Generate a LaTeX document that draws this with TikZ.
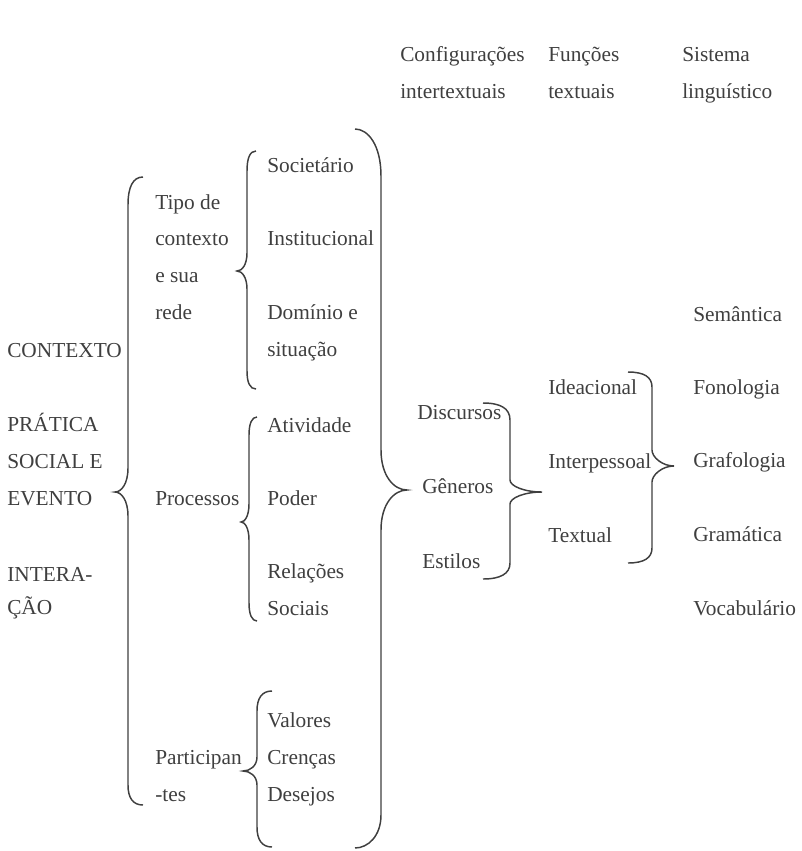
\documentclass[tikz,border=0pt]{standalone}
\usepackage{fontspec}
\setmainfont{Liberation Serif}
\usepackage{tikz}
\usetikzlibrary{positioning}
\definecolor{ink}{HTML}{3F3F3F}

\begin{document}
\begin{tikzpicture}[x=0.75pt,y=0.75pt,yscale=-1,xscale=1,
    lbl/.style={anchor=base west, inner sep=0pt, align=left, text=ink,
        font=\fontsize{16}{27.5}\selectfont},
    brc/.style={draw=ink, line width=1.1pt}]
    \useasboundingbox (0,0) rectangle (801,851);

    %Shape: Brace (left, main)
    \draw [brc] (143,177) .. controls (133,177) and (128,186.8) .. (128,205) -- (128,468) .. controls (128,483.6) and (121.5,492) .. (115,492) .. controls (121.5,492) and (128,500.4) .. (128,516) -- (128,785) .. controls (128,798) and (133,805) .. (143,805) ;
    %Shape: Brace (tipo de contexto)
    \draw [brc] (256,151) .. controls (250,151) and (247,158) .. (247,171) -- (247,253) .. controls (247,264.7) and (242,271) .. (237,271) .. controls (242,271) and (247,277.3) .. (247,289) -- (247,371) .. controls (247,382.7) and (250,389) .. (256,389) ;
    %Shape: Brace (processos)
    \draw [brc] (257,417) .. controls (252,417) and (249,423.3) .. (249,435) -- (249,504) .. controls (249,515.7) and (245,522) .. (241,522) .. controls (245,522) and (249,528.3) .. (249,540) -- (249,603) .. controls (249,614.7) and (252,621) .. (257,621) ;
    %Shape: Brace (participantes)
    \draw [brc] (272,691) .. controls (262,691) and (257,698) .. (257,711) -- (257,757) .. controls (257,766) and (250,771) .. (243,771) .. controls (250,771) and (257,776) .. (257,785) -- (257,827) .. controls (257,840) and (262,847) .. (272,847) ;
    %Shape: Brace (right, main)
    \draw [brc] (355,129) .. controls (368,129) and (381,145) .. (381,176) -- (381,450) .. controls (381,476) and (394,490) .. (407,490) .. controls (394,490) and (381,504) .. (381,530) -- (381,815) .. controls (381,836) and (368,848) .. (355,848) ;
    %Shape: Brace (configuracoes)
    \draw [brc] (483,403) .. controls (500,403) and (510,408) .. (510,420) -- (510,480) .. controls (510,486) and (524,492) .. (542,492) .. controls (524,492) and (510,498) .. (510,504) -- (510,563) .. controls (510,574) and (500,579) .. (483,579) ;
    %Shape: Brace (funcoes)
    \draw [brc] (628,372) .. controls (644,372) and (652,377) .. (652,387) -- (652,450) .. controls (652,457) and (662,466) .. (674,466) .. controls (662,466) and (652,475) .. (652,482) -- (652,548) .. controls (652,558) and (644,563) .. (628,563) ;

    % Text Node (headers)
    \node [lbl] (configuracoes) at (400,98) {Configurações\\intertextuais};
    \node [lbl] (funcoes) at (548,98) {Funções\\textuais};
    \node [lbl] (sistema) at (682,98) {Sistema\\linguístico};

    % Text Node (left column)
    \node [lbl] (contexto) at (7,357) {CONTEXTO};
    \node [lbl] (pratica) at (7,505) {PRÁTICA\\SOCIAL E\\EVENTO};
    \node [lbl] (interacao) at (7,614) {INTERA-\\[-3pt]ÇÃO};

    % Text Node (second column)
    \node [lbl] (tipo) at (155,319) {Tipo de\\contexto\\e sua\\rede};
    \node [lbl] (processos) at (155,505) {Processos};
    \node [lbl] (participantes) at (155,801) {Participan\\-tes};

    % Text Node (third column)
    \node [lbl] (societario) at (267,172) {Societário};
    \node [lbl] (institucional) at (267,245) {Institucional};
    \node [lbl] (dominio) at (267,356) {Domínio e\\situação};
    \node [lbl] (atividade) at (267,432) {Atividade};
    \node [lbl] (poder) at (267,505) {Poder};
    \node [lbl] (relacoes) at (267,615) {Relações\\Sociais};
    \node [lbl] (valores) at (267,727) {Valores};
    \node [lbl] (crencas) at (267,764) {Crenças};
    \node [lbl] (desejos) at (267,801) {Desejos};

    % Text Node (configuracoes intertextuais)
    \node [lbl] (discursos) at (417,419) {Discursos};
    \node [lbl] (generos) at (422,493) {Gêneros};
    \node [lbl] (estilos) at (422,568) {Estilos};

    % Text Node (funcoes textuais)
    \node [lbl] (ideacional) at (548,394) {Ideacional};
    \node [lbl] (interpessoal) at (548,468) {Interpessoal};
    \node [lbl] (textual) at (548,542) {Textual};

    % Text Node (sistema linguistico)
    \node [lbl] (semantica) at (693,321) {Semântica};
    \node [lbl] (fonologia) at (693,394) {Fonologia};
    \node [lbl] (grafologia) at (693,467) {Grafologia};
    \node [lbl] (gramatica) at (693,541) {Gramática};
    \node [lbl] (vocabulario) at (693,615) {Vocabulário};

\end{tikzpicture}
\end{document}
